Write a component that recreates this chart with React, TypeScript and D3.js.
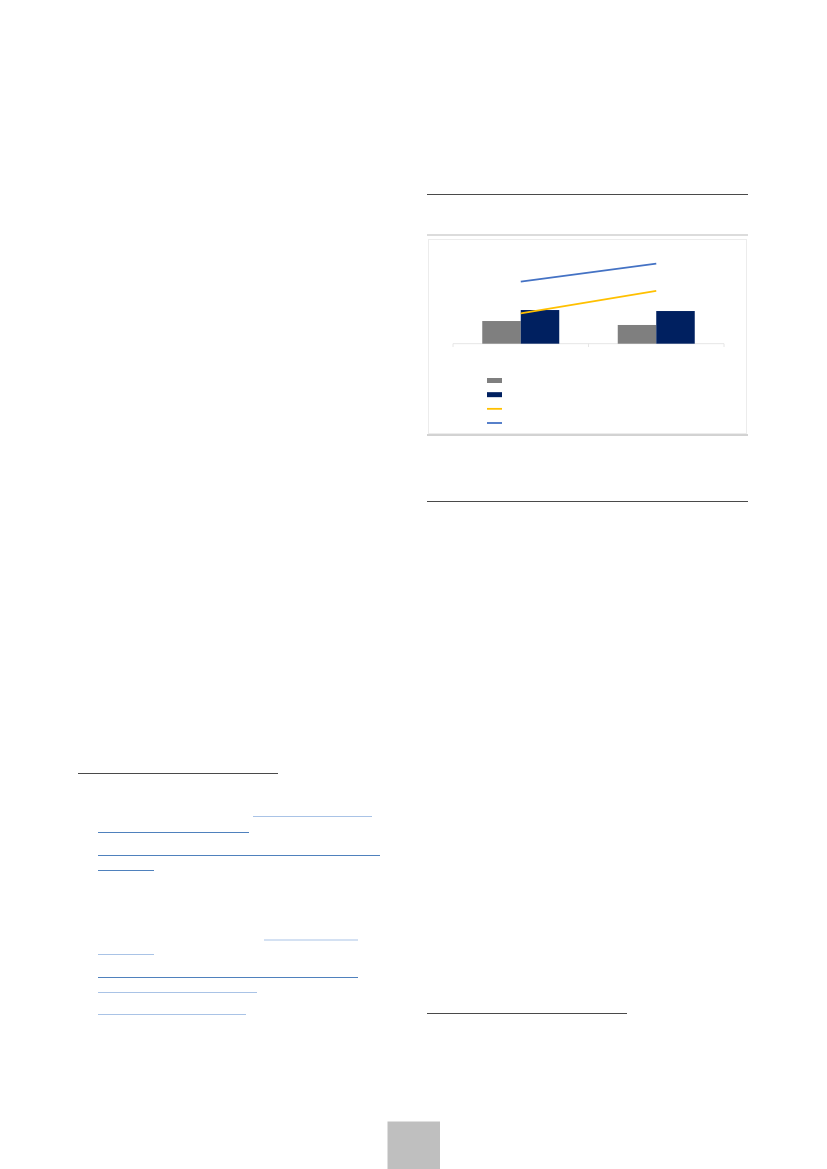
import React from 'react';
import * as d3 from 'd3';

// chart data (arbitrary units, 0 at the category axis)
const categories = ['c1', 'c2'];
const barSeries = ['s1', 's2'];
const barGray = [25.2, 20.8];
const barNavy = [37.4, 36.3];
const lineYellow = [33.8, 58.6];
const lineBlue = [68.9, 88.9];

const COLORS = {
  gray: '#7f7f7f',
  navy: '#002060',
  yellow: '#ffc000',
  blue: '#4472c4',
};

// page furniture: rules and link underlines of the surrounding page
const darkRules: [number, number, number][] = [
  [427, 748, 194.5],
  [427, 748, 501.5],
  [78, 278, 773.5],
  [427, 627, 1013.5],
];
const linkRules: [number, number, number, string][] = [
  [253, 372, 816.5, '#a9c3e6'],
  [98, 249, 832.5, '#4f81bd'],
  [98, 380, 855.5, '#4f81bd'],
  [98, 154, 870.5, '#4f81bd'],
  [264, 358, 940, '#a9c3e6'],
  [98, 154, 954.5, '#a9c3e6'],
  [98, 358, 977.5, '#4f81bd'],
  [98, 257, 992.5, '#a9c3e6'],
  [98, 246, 1014.5, '#a9c3e6'],
];

const App: React.FC = () => {
  const x = d3.scaleBand<string>().domain(categories).range([453, 724]).padding(0);
  const xInner = d3
    .scaleBand<string>()
    .domain(barSeries)
    .range([0, x.bandwidth()])
    .paddingInner(0)
    .paddingOuter(0.76);
  const y = d3.scaleLinear().domain([0, 100]).range([343.7, 253.7]);

  const cx = (c: string) => (x(c) as number) + x.bandwidth() / 2;
  const line = d3
    .line<number>()
    .x((_, i) => cx(categories[i]))
    .y((d) => y(d));

  const legend = [
    { kind: 'bar', color: COLORS.gray },
    { kind: 'bar', color: COLORS.navy },
    { kind: 'line', color: COLORS.yellow },
    { kind: 'line', color: COLORS.blue },
  ];
  const legendY = d3.scalePoint<number>().domain([0, 1, 2, 3]).range([380.5, 423]);

  return (
    <div style={{ position: 'absolute', left: 0, top: 0 }}>
      <svg width={827} height={1169} style={{ display: 'block', background: '#fff' }}>
        {darkRules.map(([x1, x2, yy], i) => (
          <line key={`d${i}`} x1={x1} x2={x2} y1={yy} y2={yy} stroke="#4a4a4a" strokeWidth={1} />
        ))}
        {linkRules.map(([x1, x2, yy, c], i) => (
          <line key={`l${i}`} x1={x1} x2={x2} y1={yy} y2={yy} stroke={c} strokeWidth={1} />
        ))}

        {/* chart frame */}
        <line x1={427} x2={748} y1={235} y2={235} stroke="#dcdcdc" strokeWidth={2} />
        <rect x={428.5} y={239.5} width={318} height={194} fill="#fff" stroke="#ececec" strokeWidth={1} />
        <line x1={427} x2={748} y1={435} y2={435} stroke="#a6a6a6" strokeWidth={1} />

        {/* category axis */}
        <line x1={453} x2={724} y1={343.7} y2={343.7} stroke="#e6e6e6" strokeWidth={1} />
        {[453, 453 + x.step(), 724].map((t, i) => (
          <line key={`t${i}`} x1={t} x2={t} y1={343.7} y2={347} stroke="#e6e6e6" strokeWidth={1} />
        ))}

        {/* bars */}
        {categories.map((c, i) => (
          <g key={c} transform={`translate(${x(c)},0)`}>
            <rect
              x={xInner('s1')}
              y={y(barGray[i])}
              width={xInner.bandwidth()}
              height={y(0) - y(barGray[i])}
              fill={COLORS.gray}
            />
            <rect
              x={xInner('s2')}
              y={y(barNavy[i])}
              width={xInner.bandwidth()}
              height={y(0) - y(barNavy[i])}
              fill={COLORS.navy}
            />
          </g>
        ))}

        {/* lines */}
        <path d={line(lineYellow) as string} fill="none" stroke={COLORS.yellow} strokeWidth={1.8} />
        <path d={line(lineBlue) as string} fill="none" stroke={COLORS.blue} strokeWidth={1.8} />

        {/* legend */}
        {legend.map((l, i) =>
          l.kind === 'bar' ? (
            <rect key={`lg${i}`} x={487} y={(legendY(i) as number) - 2.5} width={15} height={5} fill={l.color} />
          ) : (
            <line
              key={`lg${i}`}
              x1={487}
              x2={502}
              y1={legendY(i)}
              y2={legendY(i)}
              stroke={l.color}
              strokeWidth={1.8}
            />
          )
        )}

        {/* page number box */}
        <rect x={387.5} y={1121.5} width={52.5} height={47.5} fill="#bfbfbf" />
      </svg>
    </div>
  );
};

export default App;
